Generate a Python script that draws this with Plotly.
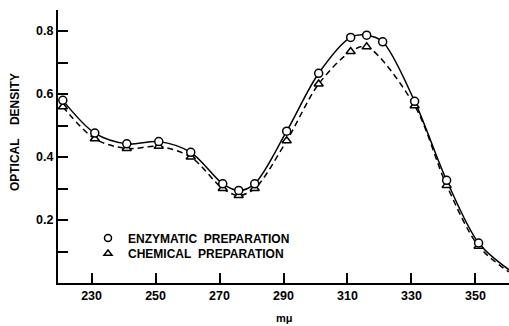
import plotly.graph_objects as go

# Wavelength (m\u03bc) and optical density readings
enz_x = [221, 231, 241, 251, 261, 271, 276, 281, 291, 301, 311, 316, 321, 331, 341, 351]
enz_y = [0.58, 0.476, 0.442, 0.449, 0.415, 0.315, 0.294, 0.315, 0.482, 0.666, 0.78, 0.787, 0.766, 0.577, 0.326, 0.127]
chem_x = [221, 231, 241, 251, 261, 271, 276, 281, 291, 301, 311, 316, 331, 341, 351]
chem_y = [0.56, 0.458, 0.427, 0.434, 0.40, 0.30, 0.278, 0.30, 0.452, 0.632, 0.735, 0.75, 0.563, 0.31, 0.117]
# curve continuation to the right edge (no measured marker)
enz_tail_x, enz_tail_y = [360.5], [0.042]
chem_tail_x, chem_tail_y = [360.5], [0.035]

x_ticks = [230, 250, 270, 290, 310, 330, 350]
y_ticks = [0.1, 0.2, 0.3, 0.4, 0.5, 0.6, 0.7, 0.8]
y_ticktext = ["", "0.2", "", "0.4", "", "0.6", "", "0.8"]

FONT = "Liberation Sans"
NB = "\u00a0"

fig = go.Figure()
fig.add_trace(go.Scatter(x=chem_x + chem_tail_x, y=chem_y + chem_tail_y, mode="lines",
                         line=dict(color="black", width=1.5, dash="6px,4px", shape="spline", smoothing=0.9),
                         showlegend=False, hoverinfo="skip"))
fig.add_trace(go.Scatter(x=enz_x + enz_tail_x, y=enz_y + enz_tail_y, mode="lines",
                         line=dict(color="black", width=1.5, shape="spline", smoothing=0.9),
                         showlegend=False, hoverinfo="skip"))
fig.add_trace(go.Scatter(x=chem_x, y=chem_y, mode="markers",
                         marker=dict(symbol="triangle-up", size=8, color="white",
                                     line=dict(color="black", width=1.5)),
                         showlegend=False))
fig.add_trace(go.Scatter(x=enz_x, y=enz_y, mode="markers",
                         marker=dict(symbol="circle", size=8, color="white",
                                     line=dict(color="black", width=1.5)),
                         showlegend=False))
fig.add_trace(go.Scatter(x=[None], y=[None], mode="markers", name="ENZYMATIC" + NB * 2 + "PREPARATION",
                         legend="legend",
                         marker=dict(symbol="circle", size=7, color="white",
                                     line=dict(color="black", width=1.5))))
fig.add_trace(go.Scatter(x=[None], y=[None], mode="markers", name="CHEMICAL" + NB * 2 + "PREPARATION",
                         legend="legend2",
                         marker=dict(symbol="triangle-up", size=7, color="white",
                                     line=dict(color="black", width=1.5))))

leg_common = dict(xanchor="left", yanchor="top", bgcolor="rgba(0,0,0,0)", borderwidth=0,
                  font=dict(family=FONT, size=12, color="black", weight="bold"), itemwidth=30)

fig.update_layout(
    width=509, height=326,
    margin=dict(l=58, r=0, t=10, b=43),
    paper_bgcolor="white", plot_bgcolor="white",
    font=dict(family=FONT, size=12.5, color="black", weight="bold"),
    showlegend=True,
    legend=dict(x=0.0665, y=0.2180, **leg_common),
    legend2=dict(x=0.0665, y=0.1610, **leg_common),
    annotations=[
        dict(text="OPTICAL" + NB * 4 + "DENSITY", textangle=-90, xref="paper", yref="paper",
             x=-0.0953, y=0.553, showarrow=False, xanchor="center", yanchor="middle",
             font=dict(family=FONT, size=12, weight="bold")),
        dict(text="m\u03bc", xref="paper", yref="paper", x=0.502, y=-0.1555, showarrow=False,
             xanchor="center", yanchor="bottom", borderpad=0,
             font=dict(family=FONT, size=11, weight="bold")),
    ],
)
fig.update_xaxes(range=[219.5, 360.5], tickvals=x_ticks, ticks="inside", ticklen=10,
                 tickwidth=1.5, tickcolor="black", showline=True, linecolor="black", linewidth=2,
                 showgrid=False, zeroline=False)
fig.update_yaxes(range=[0, 0.867], tickvals=y_ticks, ticktext=y_ticktext, ticks="inside", ticklen=10,
                 tickwidth=1.5, tickcolor="black", showline=True, linecolor="black", linewidth=2,
                 showgrid=False, zeroline=False)

fig.write_html("out.html")
